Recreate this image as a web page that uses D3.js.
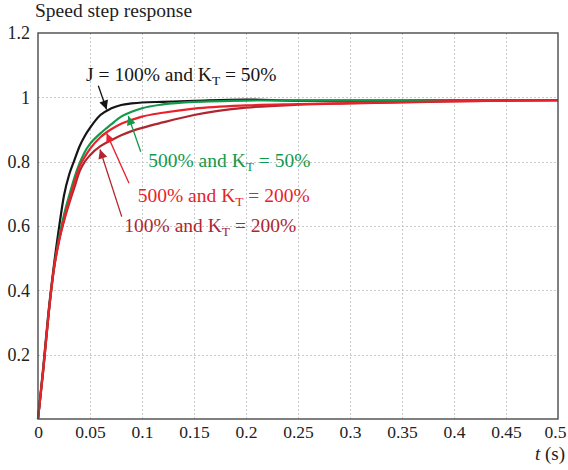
<!DOCTYPE html>
<html>
<head>
<meta charset="utf-8">
<script src="https://cdn.jsdelivr.net/npm/d3@7"></script>
</head>
<body style="margin:0">
<script>

var serifFont = "'Liberation Serif'";

// time samples (s)
var times = [0, 0.005, 0.01, 0.015, 0.02, 0.025, 0.03, 0.035, 0.04, 0.045, 0.05, 0.06, 0.07, 0.08, 0.09, 0.1, 0.12, 0.15, 0.2, 0.25, 0.3, 0.35, 0.4, 0.45, 0.5];

// speed responses
var blackValues   = [0, 0.16, 0.33, 0.47, 0.59, 0.695, 0.76, 0.805, 0.848, 0.88, 0.905, 0.945, 0.965, 0.976, 0.981, 0.984, 0.986, 0.989, 0.993, 0.99, 0.99, 0.99, 0.991, 0.991, 0.991];
var greenValues   = [0, 0.15, 0.32, 0.46, 0.56, 0.635, 0.695, 0.75, 0.795, 0.83, 0.855, 0.888, 0.915, 0.94, 0.955, 0.966, 0.978, 0.986, 0.99, 0.991, 0.991, 0.991, 0.991, 0.991, 0.991];
var redValues     = [0, 0.15, 0.32, 0.46, 0.55, 0.62, 0.68, 0.735, 0.785, 0.815, 0.84, 0.876, 0.9, 0.918, 0.93, 0.94, 0.952, 0.965, 0.975, 0.979, 0.982, 0.985, 0.988, 0.99, 0.991];
var darkRedValues = [0, 0.15, 0.32, 0.46, 0.55, 0.615, 0.67, 0.72, 0.77, 0.8, 0.82, 0.848, 0.866, 0.882, 0.895, 0.905, 0.922, 0.945, 0.968, 0.977, 0.981, 0.984, 0.987, 0.99, 0.991];

var seriesNames  = ["J100_KT50", "J500_KT50", "J100_KT200", "J500_KT200"];
var seriesColors = ["#151515", "#13994a", "#b0262f", "#e8222b"];
var seriesValues = [blackValues, greenValues, darkRedValues, redValues];

var xTicks = [0, 0.05, 0.1, 0.15, 0.2, 0.25, 0.3, 0.35, 0.4, 0.45, 0.5];
var yTicks = [0.2, 0.4, 0.6, 0.8, 1, 1.2];

// annotations: label pieces (before subscript, subscript, after), colour, positions in data units
var labelBefore = ["J = 100% and K", "500% and K", "500% and K", "100% and K"];
var labelSub    = ["T", "T", "T", "T"];
var labelAfter  = [" = 50%", " = 50%", " = 200%", " = 200%"];
var labelColors = ["#151515", "#13994a", "#e8222b", "#b0262f"];
var labelAt     = [[0.0462, 1.052], [0.106, 0.784], [0.0959, 0.676], [0.083, 0.582]];
var arrowFrom   = [[0.058, 1.036], [0.0988, 0.831], [0.0875, 0.733], [0.0805, 0.629]];
var arrowTo     = [[0.066, 0.962], [0.0868, 0.942], [0.066, 0.888], [0.0596, 0.838]];

var width = 568, height = 470;
var margin = {top: 33, right: 10, bottom: 51, left: 38};
var innerW = width - margin.left - margin.right,
    innerH = height - margin.top - margin.bottom;

var svg = d3.select("body")
  .append("svg")
    .attr("width", width)
    .attr("height", height);

var defs = svg.append("defs");
labelColors.forEach(function(c, i) {
  defs.append("marker")
    .attr("id", "arrow" + i)
    .attr("viewBox", "0 0 10 10")
    .attr("refX", 10)
    .attr("refY", 5)
    .attr("markerUnits", "userSpaceOnUse")
    .attr("markerWidth", 12)
    .attr("markerHeight", 9)
    .attr("orient", "auto")
    .append("path")
    .attr("d", "M0,0 L10,5 L0,10 z")
    .attr("fill", c);
});

var g = svg.append("g")
  .attr("transform", "translate(" + margin.left + "," + margin.top + ")");

var x = d3.scaleLinear().domain([0, 0.5]).range([0, innerW]);
var y = d3.scaleLinear().domain([0, 1.2]).range([innerH, 0]);

// dotted grid
var grid = g.append("g")
  .attr("stroke", "#c9c9c9")
  .attr("stroke-width", 1)
  .attr("stroke-dasharray", "2,2");

grid.selectAll("line.v")
  .data(xTicks.slice(1, -1))
  .join("line")
  .attr("class", "v")
  .attr("x1", d => Math.round(x(d)) + 0.5)
  .attr("x2", d => Math.round(x(d)) + 0.5)
  .attr("y1", 0)
  .attr("y2", innerH);

grid.selectAll("line.h")
  .data(yTicks.slice(0, -1))
  .join("line")
  .attr("class", "h")
  .attr("y1", d => Math.round(y(d)) + 0.5)
  .attr("y2", d => Math.round(y(d)) + 0.5)
  .attr("x1", 0)
  .attr("x2", innerW);

// axes (labels only)
var xAxis = g.append("g")
  .attr("transform", "translate(0," + innerH + ")")
  .call(d3.axisBottom(x).tickValues(xTicks).tickFormat(d3.format("")).tickSize(0).tickPadding(7));
xAxis.select(".domain").remove();
xAxis.selectAll("text")
  .attr("font-size", 17.5)
  .style("font-family", serifFont)
  .attr("fill", "#222")
  .attr("dx", d => d === 0.5 ? -3 : 0);

var yAxis = g.append("g")
  .call(d3.axisLeft(y).tickValues(yTicks).tickFormat(d3.format("")).tickSize(0).tickPadding(8));
yAxis.select(".domain").remove();
yAxis.selectAll("text")
  .attr("font-size", 18)
  .style("font-family", serifFont)
  .attr("fill", "#222");

// curves
var line = d3.line()
  .x((d, i) => x(times[i]))
  .y(d => y(d))
  .curve(d3.curveMonotoneX);

g.selectAll("path.curve")
  .data(seriesValues)
  .join("path")
  .attr("class", "curve")
  .attr("fill", "none")
  .attr("stroke", (d, i) => seriesColors[i])
  .attr("stroke-width", 2.2)
  .attr("d", line);

// frame
g.append("rect")
  .attr("x", 0)
  .attr("y", 0)
  .attr("width", innerW)
  .attr("height", innerH)
  .attr("fill", "none")
  .attr("stroke", "#4a4a4a")
  .attr("stroke-width", 1.4);

// arrows
g.selectAll("line.arrow")
  .data(arrowFrom)
  .join("line")
  .attr("class", "arrow")
  .attr("x1", d => x(d[0]))
  .attr("y1", d => y(d[1]))
  .attr("x2", (d, i) => x(arrowTo[i][0]))
  .attr("y2", (d, i) => y(arrowTo[i][1]))
  .attr("stroke", (d, i) => labelColors[i])
  .attr("stroke-width", 1.3)
  .attr("marker-end", (d, i) => "url(#arrow" + i + ")");

// annotation labels with subscript T
var labels = g.selectAll("text.label")
  .data(labelBefore)
  .join("text")
  .attr("class", "label")
  .attr("font-size", 19.5)
  .style("font-family", serifFont)
  .attr("x", (d, i) => x(labelAt[i][0]))
  .attr("y", (d, i) => y(labelAt[i][1]))
  .attr("fill", (d, i) => labelColors[i]);

labels.append("tspan").text(d => d);
labels.append("tspan")
  .attr("font-size", 13.5)
  .attr("dy", 4)
  .text((d, i) => labelSub[i]);
labels.append("tspan")
  .attr("dy", -4)
  .text((d, i) => labelAfter[i]);

// title
svg.append("text")
  .attr("font-size", 19.5)
  .style("font-family", serifFont)
  .attr("x", 35)
  .attr("y", 17)
  .attr("fill", "#222")
  .text("Speed step response");

// x axis label
var xl = svg.append("text")
  .attr("font-size", 19)
  .style("font-family", serifFont)
  .attr("x", 565)
  .attr("y", 460)
  .attr("text-anchor", "end")
  .attr("fill", "#222");
xl.append("tspan").attr("font-style", "italic").text("t");
xl.append("tspan").text(" (s)");

</script>
</body>
</html>
